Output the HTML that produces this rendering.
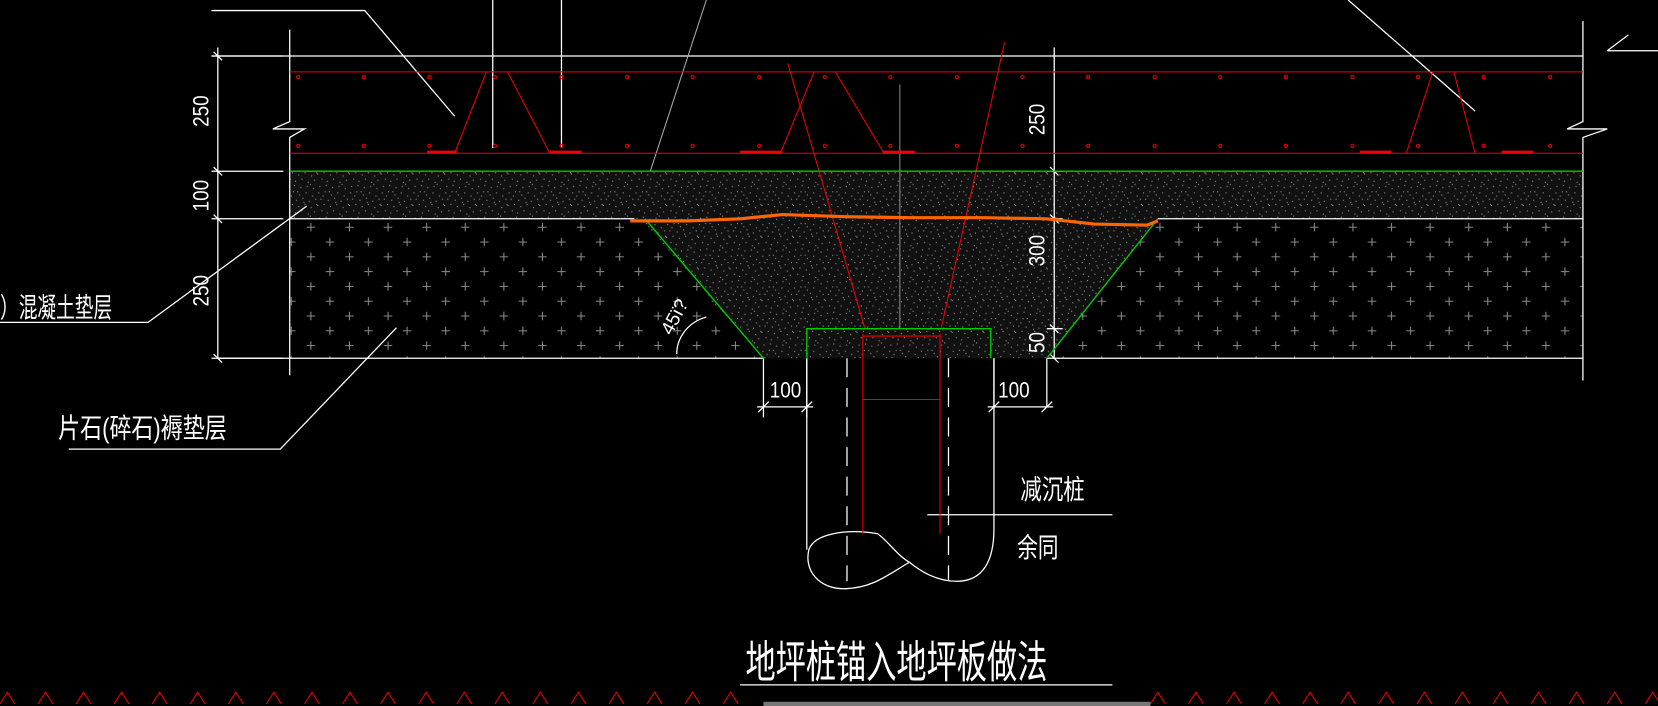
<!DOCTYPE html>
<html><head><meta charset="utf-8"><style>
html,body{margin:0;padding:0;background:#000;width:1658px;height:706px;overflow:hidden}
svg{display:block}
text{font-family:"Liberation Sans","Noto Sans CJK SC",sans-serif;fill:#fff}
</style></head><body>
<svg width="1658" height="706" viewBox="0 0 1568 668" preserveAspectRatio="none" xmlns="http://www.w3.org/2000/svg">
<defs>
<pattern id="sp" width="30" height="30" patternUnits="userSpaceOnUse">
<rect width="30" height="30" fill="#111"/>
<g fill="#9a9a9a">
<rect x="1" y="2" width="1" height="1"/><rect x="7" y="1" width="1" height="1"/><rect x="13" y="4" width="1" height="1"/><rect x="19" y="2" width="1" height="1"/><rect x="25" y="5" width="1" height="1"/>
<rect x="3" y="8" width="1" height="1"/><rect x="10" y="9" width="1" height="1"/><rect x="16" y="7" width="1" height="1"/><rect x="22" y="10" width="1" height="1"/><rect x="28" y="8" width="1" height="1"/>
<rect x="0" y="14" width="1" height="1"/><rect x="6" y="13" width="1" height="1"/><rect x="12" y="15" width="1" height="1"/><rect x="18" y="13" width="1" height="1"/><rect x="24" y="16" width="1" height="1"/>
<rect x="4" y="19" width="1" height="1"/><rect x="9" y="21" width="1" height="1"/><rect x="15" y="19" width="1" height="1"/><rect x="21" y="22" width="1" height="1"/><rect x="27" y="20" width="1" height="1"/>
<rect x="2" y="26" width="1" height="1"/><rect x="8" y="25" width="1" height="1"/><rect x="14" y="27" width="1" height="1"/><rect x="20" y="26" width="1" height="1"/><rect x="26" y="28" width="1" height="1"/>
<rect x="11" y="1" width="1" height="1"/><rect x="5" y="5" width="1" height="1"/><rect x="17" y="11" width="1" height="1"/><rect x="29" y="13" width="1" height="1"/><rect x="23" y="24" width="1" height="1"/>
</g></pattern>
<pattern id="cr" width="36.5" height="28" patternUnits="userSpaceOnUse" x="280" y="208">
<path d="M10 7h8M14 3v8M28 21h8M32 17v8" stroke="#8a8a8a" stroke-width="1"/>
</pattern>
</defs>
<rect width="1568" height="668" fill="#000"/>
<rect x="274" y="207" width="1223" height="132" fill="url(#cr)"/>
<path d="M274 162H1497V207H1095L990 339H722L606 207H274Z" fill="url(#sp)"/>
<g stroke="#fff" stroke-width="1.2" fill="none">
<path d="M200 53H1497M1520 48H1568M1520 48L1540 33"/>
<path d="M274 28V115L258 122H288L274 130V355"/>
<path d="M1497 20V115L1482 122H1520L1497 130V360"/>
<path d="M205 339H722M990 339H1497"/>
<path d="M274 207H600M1095 207H1497"/>
<path d="M206 45V339M200 53H268M200 162H268M200 207H268M200 339H268"/>
<path d="M202 49l8 8M202 158l8 8M202 203l8 8M202 335l8 8"/>
<path d="M997 45V339M990 162H1005M990 207H1005M990 311H1005"/>
<path d="M993 158l8 8M993 203l8 8M993 307l8 8M993 335l8 8"/>
<path d="M200 10H345L430 110"/>
<path d="M466 0V140M531 0V140"/>
<path d="M1275 0L1395 105"/>
<path d="M0 305H140L290 195"/>
<path d="M65 425H265L375 310"/>
<path d="M763 339V520M940 339V500"/>
<path d="M801 339V550M897 339V550" stroke-dasharray="18 10"/>
<path d="M722 339V395M763 339V395M716 385H769M940 339V385M990 339V385M934 385H996"/>
<path d="M717 390l10 -10M758 390l10 -10M935 390l10 -10M985 390l10 -10"/>
<path d="M877 487H1052"/>
<path d="M700 648H1052"/>
<path d="M940 500C940 530 930 550 905 550C885 550 870 540 860 532C848 525 840 512 830 505C800 500 770 505 765 520C760 540 775 558 800 557C825 556 838 545 860 532"/>
<path d="M640 335C640 320 650 305 668 300"/>
</g>
<path d="M668 0L615 162" stroke="#aaa" stroke-width="1"/>
<path d="M851 80V311" stroke="#888" stroke-width="1"/>
<g stroke="#e00" stroke-width="1" fill="none">
<path d="M274 68H1497M274 145H1497"/>
<path d="M430 145L460 68M480 68L520 145"/>
<path d="M738 145L770 68M790 68L836 145"/>
<path d="M1330 145L1355 68M1375 68L1395 145"/>
<path d="M745 60L818 311M950 40L890 311"/>
<path d="M816 316V505M889 316V505M816 318H889M816 378H889"/>
<path d="M0 666l7 -11l7 11M36 666l7 -11l7 11M72 666l7 -11l7 11M108 666l7 -11l7 11M144 666l7 -11l7 11M180 666l7 -11l7 11M216 666l7 -11l7 11M252 666l7 -11l7 11M288 666l7 -11l7 11M324 666l7 -11l7 11M360 666l7 -11l7 11M396 666l7 -11l7 11M432 666l7 -11l7 11M468 666l7 -11l7 11M504 666l7 -11l7 11M540 666l7 -11l7 11M576 666l7 -11l7 11M612 666l7 -11l7 11M648 666l7 -11l7 11M684 666l7 -11l7 11M1088 666l7 -11l7 11M1124 666l7 -11l7 11M1160 666l7 -11l7 11M1196 666l7 -11l7 11M1232 666l7 -11l7 11M1268 666l7 -11l7 11M1304 666l7 -11l7 11M1340 666l7 -11l7 11M1376 666l7 -11l7 11M1412 666l7 -11l7 11M1448 666l7 -11l7 11M1484 666l7 -11l7 11M1520 666l7 -11l7 11M1556 666l7 -11l7 11"/>
</g>
<g stroke="#e00" stroke-width="3"><path d="M404 144H432M520 144H550M700 144H740M835 144H865M1286 144H1316M1420 144H1450"/></g>
<g fill="none" stroke="#e00" stroke-width="1">
<g id="dots">
<circle cx="282" cy="73" r="1.5"/><circle cx="344" cy="73" r="1.5"/><circle cx="406" cy="73" r="1.5"/><circle cx="468" cy="73" r="1.5"/><circle cx="531" cy="73" r="1.5"/><circle cx="593" cy="73" r="1.5"/><circle cx="655" cy="73" r="1.5"/><circle cx="718" cy="73" r="1.5"/><circle cx="780" cy="73" r="1.5"/><circle cx="842" cy="73" r="1.5"/><circle cx="905" cy="73" r="1.5"/><circle cx="967" cy="73" r="1.5"/><circle cx="1029" cy="73" r="1.5"/><circle cx="1092" cy="73" r="1.5"/><circle cx="1154" cy="73" r="1.5"/><circle cx="1216" cy="73" r="1.5"/><circle cx="1279" cy="73" r="1.5"/><circle cx="1341" cy="73" r="1.5"/><circle cx="1403" cy="73" r="1.5"/><circle cx="1466" cy="73" r="1.5"/>
</g>
<use href="#dots" y="65"/>
</g>
<g stroke="#0c0" stroke-width="1.3" fill="none">
<path d="M274 162H1497"/>
<path d="M610 207L722 339M1095 207L990 339"/>
<path d="M763 339V311H937V339"/>
</g>
<path d="M596 209L650 209L700 207L740 203L800 205L860 206L930 206L990 207L1035 212L1085 213L1095 209" stroke="#f60" stroke-width="3" fill="none"/>
<rect x="722" y="664" width="366" height="4" fill="#777"/>
<g font-size="21">
<text transform="translate(197 120) rotate(-90) scale(0.85 1)">250</text>
<text transform="translate(197 200) rotate(-90) scale(0.85 1)">100</text>
<text transform="translate(197 290) rotate(-90) scale(0.85 1)">250</text>
<text transform="translate(988 128) rotate(-90) scale(0.85 1)">250</text>
<text transform="translate(988 252) rotate(-90) scale(0.85 1)">300</text>
<text transform="translate(988 334) rotate(-90) scale(0.85 1)">50</text>
<text transform="translate(728 376) scale(0.85 1)">100</text>
<text transform="translate(944 376) scale(0.85 1)">100</text>
<text transform="translate(635 318) rotate(-62)" font-size="18">45ï?</text>
</g>
<g font-size="26">
<text transform="translate(0 300) scale(0.68 1)">）混凝土垫层</text>
<text transform="translate(55 414) scale(0.8 1)">片石(碎石)褥垫层</text>
<text transform="translate(965 472) scale(0.78 1)">减沉桩</text>
<text transform="translate(962 527) scale(0.75 1)">余同</text>
</g>
<text transform="translate(705 641) scale(0.68 1)" font-size="42">地坪桩锚入地坪板做法</text>
</svg>
</body></html>
